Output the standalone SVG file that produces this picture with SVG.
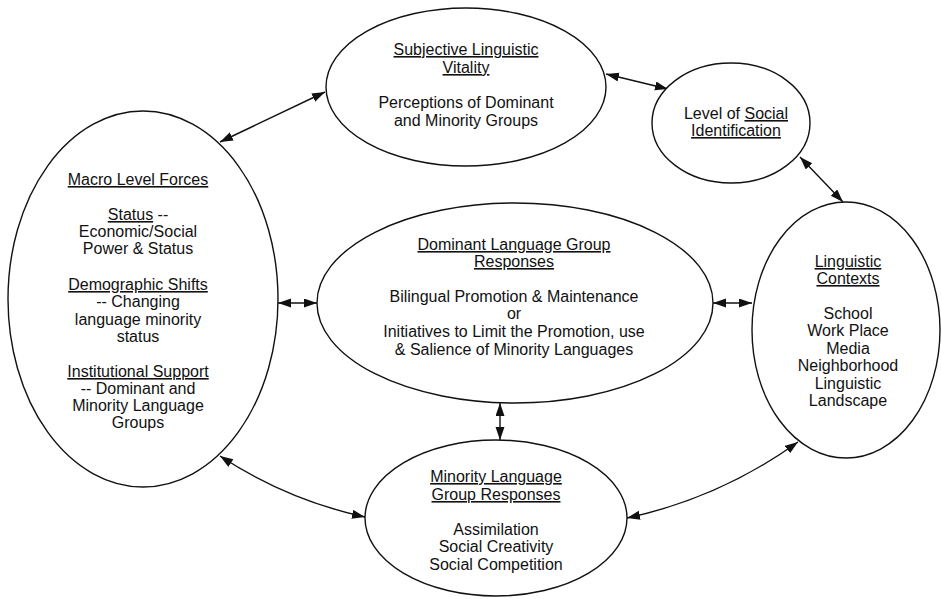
<svg xmlns="http://www.w3.org/2000/svg" width="941" height="599" viewBox="0 0 941 599">
<style>
.node{fill:#fff;stroke:#111;stroke-width:1.4}
.conn{fill:none;stroke:#111;stroke-width:1.4;marker-start:url(#ah);marker-end:url(#ah)}
text{font-family:"Liberation Sans",Arial,sans-serif;font-size:16px;fill:#111;text-anchor:middle}
.u{text-decoration:underline}
</style>
<defs>
<marker id="ah" markerUnits="userSpaceOnUse" markerWidth="14" markerHeight="10" refX="13" refY="4.5" orient="auto-start-reverse">
<path d="M0,0 L13,4.5 L0,9 z" fill="#111"/>
</marker>
</defs>
<rect width="941" height="599" fill="#fff"/>
<g id="connectors">
<path class="conn" d="M220,142 L325,92"/>
<path class="conn" d="M606,74 L668,89"/>
<path class="conn" d="M800,157 L843,202"/>
<path class="conn" d="M278,303 L317,303"/>
<path class="conn" d="M713,303 L752,303"/>
<path class="conn" d="M500,403 L500,440"/>
<path class="conn" d="M220,456 Q287,500 365,517"/>
<path class="conn" d="M627,518 Q720,498 798,442"/>
</g>
<g id="macro">
<ellipse class="node" cx="143" cy="299" rx="135" ry="188"/>
<text x="138" y="185" class="u">Macro Level Forces</text>
<text x="138" y="220"><tspan class="u">Status</tspan> --</text>
<text x="138" y="237">Economic/Social</text>
<text x="138" y="254">Power &amp; Status</text>
<text x="138" y="290" class="u">Demographic Shifts</text>
<text x="138" y="307">-- Changing</text>
<text x="138" y="325">language minority</text>
<text x="138" y="342">status</text>
<text x="138" y="377" class="u">Institutional Support</text>
<text x="138" y="394">-- Dominant and</text>
<text x="138" y="411">Minority Language</text>
<text x="138" y="428">Groups</text>
</g>
<g id="vitality">
<ellipse class="node" cx="466" cy="87" rx="140" ry="79"/>
<text x="466" y="55" class="u">Subjective Linguistic</text>
<text x="466" y="73" class="u">Vitality</text>
<text x="466" y="108">Perceptions of Dominant</text>
<text x="466" y="126">and Minority Groups</text>
</g>
<g id="identification">
<ellipse class="node" cx="731" cy="123" rx="79" ry="60"/>
<text x="736" y="119">Level of <tspan class="u">Social</tspan></text>
<text x="736" y="136" class="u">Identification</text>
</g>
<g id="dominant">
<ellipse class="node" cx="515" cy="303" rx="198" ry="100"/>
<text x="514" y="250" class="u">Dominant Language Group</text>
<text x="514" y="267" class="u">Responses</text>
<text x="514" y="302">Bilingual Promotion &amp; Maintenance</text>
<text x="514" y="319">or</text>
<text x="514" y="337">Initiatives to Limit the Promotion, use</text>
<text x="514" y="355">&amp; Salience of Minority Languages</text>
</g>
<g id="contexts">
<ellipse class="node" cx="846" cy="330" rx="94" ry="128"/>
<text x="848" y="267" class="u">Linguistic</text>
<text x="848" y="284" class="u">Contexts</text>
<text x="848" y="319">School</text>
<text x="848" y="336">Work Place</text>
<text x="848" y="354">Media</text>
<text x="848" y="371">Neighborhood</text>
<text x="848" y="389">Linguistic</text>
<text x="848" y="406">Landscape</text>
</g>
<g id="minority">
<ellipse class="node" cx="496" cy="518" rx="131" ry="78"/>
<text x="496" y="482" class="u">Minority Language</text>
<text x="496" y="500" class="u">Group Responses</text>
<text x="496" y="535">Assimilation</text>
<text x="496" y="552">Social Creativity</text>
<text x="496" y="570">Social Competition</text>
</g>
</svg>
